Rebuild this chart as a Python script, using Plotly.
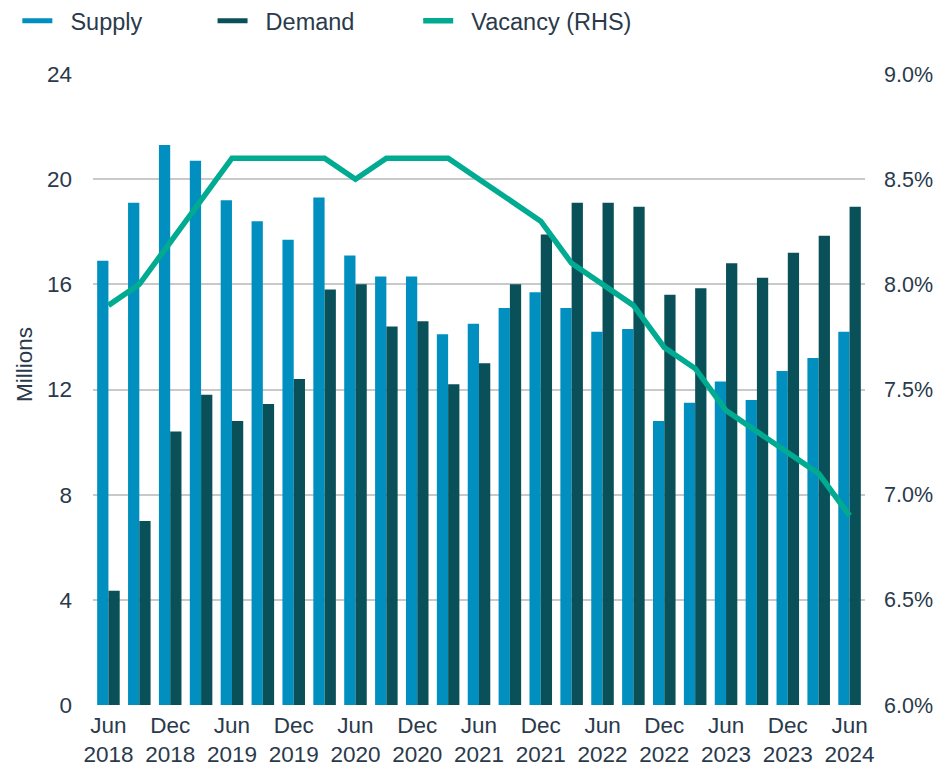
import plotly.graph_objects as go

quarters = ["Jun 2018", "Sep 2018", "Dec 2018", "Mar 2019", "Jun 2019", "Sep 2019", "Dec 2019",
            "Mar 2020", "Jun 2020", "Sep 2020", "Dec 2020", "Mar 2021", "Jun 2021", "Sep 2021",
            "Dec 2021", "Mar 2022", "Jun 2022", "Sep 2022", "Dec 2022", "Mar 2023", "Jun 2023",
            "Sep 2023", "Dec 2023", "Mar 2024", "Jun 2024"]

supply = [16.9, 19.1, 21.3, 20.7, 19.2, 18.4, 17.7, 19.3, 17.1, 16.3, 16.3, 14.1, 14.5, 15.1,
          15.7, 15.1, 14.2, 14.3, 10.8, 11.5, 12.3, 11.6, 12.7, 13.2, 14.2]
demand = [4.35, 7.0, 10.4, 11.8, 10.8, 11.45, 12.4, 15.8, 16.0, 14.4, 14.6, 12.2, 13.0, 16.0,
          17.9, 19.1, 19.1, 18.95, 15.6, 15.85, 16.8, 16.25, 17.2, 17.85, 18.95]
vacancy = [7.9, 8.0, 8.2, 8.4, 8.6, 8.6, 8.6, 8.6, 8.5, 8.6, 8.6, 8.6, 8.5, 8.4, 8.3, 8.1,
           8.0, 7.9, 7.7, 7.6, 7.4, 7.3, 7.2, 7.1, 6.9]

tick_vals = quarters[::2]
tick_text = [q.replace(" ", "<br>") for q in tick_vals]

left_ticks = [0, 4, 8, 12, 16, 20, 24]
right_ticks = [6.0, 6.5, 7.0, 7.5, 8.0, 8.5, 9.0]
right_labels = ["6.0%", "6.5%", "7.0%", "7.5%", "8.0%", "8.5%", "9.0%"]

C_SUPPLY = "#008FBF"
C_DEMAND = "#0A5058"
C_VAC = "#00AB92"
C_TEXT = "#2A3A4B"
FONT = "Liberation Sans, Arial, sans-serif"
NB = "\u00a0"

fig = go.Figure()

# legend entries (short dash like the reference)
fig.add_trace(go.Scatter(x=[None], y=[None], mode="lines", name=NB * 2 + "Supply" + NB * 10,
                         line=dict(color=C_SUPPLY, width=5), showlegend=True, hoverinfo="skip"))
fig.add_trace(go.Scatter(x=[None], y=[None], mode="lines", name=NB * 2 + "Demand" + NB * 9,
                         line=dict(color=C_DEMAND, width=5), showlegend=True, hoverinfo="skip"))

fig.add_trace(go.Bar(x=quarters, y=supply, name="Supply", marker=dict(color=C_SUPPLY, line=dict(width=0)),
                     showlegend=False))
fig.add_trace(go.Bar(x=quarters, y=demand, name="Demand", marker=dict(color=C_DEMAND, line=dict(width=0)),
                     showlegend=False))
fig.add_trace(go.Scatter(x=quarters, y=vacancy, name=NB * 2 + "Vacancy (RHS)", mode="lines",
                         line=dict(color=C_VAC, width=5.5), yaxis="y2", showlegend=True))

fig.update_layout(
    width=934, height=758,
    margin=dict(l=85, r=77, t=66, b=61, autoexpand=False),
    paper_bgcolor="white", plot_bgcolor="white",
    font=dict(family=FONT, size=22.5, color=C_TEXT),
    barmode="group", bargap=0.27, bargroupgap=0,
    showlegend=True,
    legend=dict(orientation="h", x=-0.098, xanchor="left", y=1.084, yanchor="middle",
                font=dict(size=23.5, color=C_TEXT), bgcolor="rgba(0,0,0,0)",
                itemwidth=30, tracegroupgap=0),
    xaxis=dict(type="category", categoryorder="array", categoryarray=quarters,
               tickmode="array", tickvals=tick_vals, ticktext=tick_text,
               showgrid=False, zeroline=False, showline=False, ticks="",
               ticklabelstandoff=4, tickangle=0),
    yaxis=dict(range=[0, 24], tickmode="array", tickvals=left_ticks,
               showgrid=True, gridcolor="#C9C9C9", gridwidth=1.5, zeroline=False,
               showline=False, ticks="", ticklabelstandoff=20),
    yaxis2=dict(range=[6.0, 9.0], overlaying="y", side="right", tickmode="array",
                tickvals=right_ticks, ticktext=right_labels,
                tickfont=dict(size=21.5, color=C_TEXT, family=FONT),
                showgrid=False, zeroline=False, showline=False, ticks="",
                ticklabelstandoff=18),
    annotations=[dict(text="Millions", textangle=-90, xref="paper", yref="paper",
                      x=-(93 - 24) / 772, y=(705 - 365) / 631, xanchor="center", yanchor="middle",
                      showarrow=False, font=dict(size=22.5, color=C_TEXT, family=FONT))],
)

fig.write_html("out.html")
